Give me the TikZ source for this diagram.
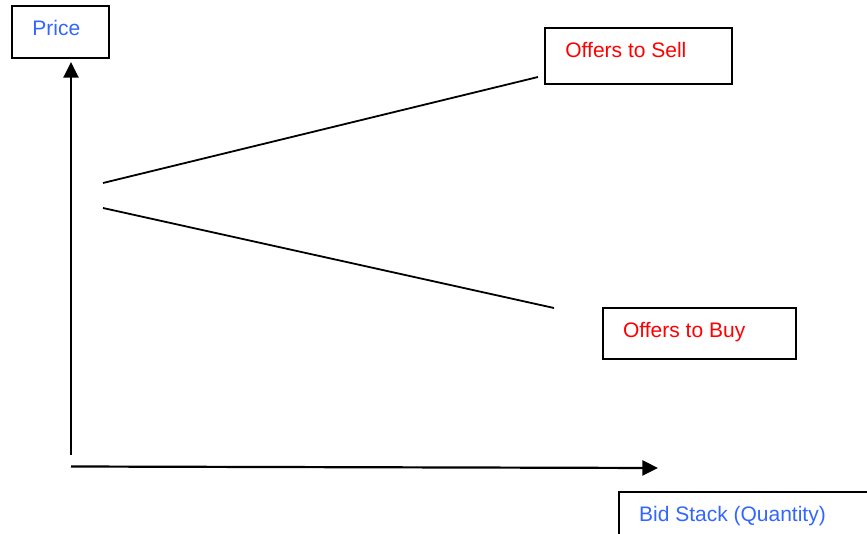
\documentclass[tikz,border=0pt]{standalone}
\usepackage{fontspec}
\setmainfont{Liberation Sans}
\usetikzlibrary{arrows.meta}
\definecolor{axisblue}{RGB}{51,102,255}
\begin{document}
\begin{tikzpicture}[x=0.5pt,y=-0.5pt]
\tikzstyle{labelbox} = [draw, line width=1pt, anchor=north west, inner sep=0pt]
\tikzstyle{axistext} = [anchor=base west, inner sep=0pt, text=axisblue, font=\fontsize{10.5}{12}\selectfont]
\tikzstyle{offertext} = [anchor=base west, inner sep=0pt, text=red, font=\fontsize{10.5}{12}\selectfont]
\tikzstyle{axis} = [line width=1.1pt, -{Triangle[length=7.8pt,width=7.5pt]}]
\tikzstyle{offerline} = [line width=0.9pt]
 \useasboundingbox (0,0) rectangle (867,534);
 % boxes and their texts
 \node[labelbox, minimum width=48.3pt, minimum height=25.8pt] (pricebox) at (11,5.5) {};
 \node[axistext] (price) at (32,36) {Price};
 \node[labelbox, minimum width=93.5pt, minimum height=28pt] (sellbox) at (544,27) {};
 \node[offertext] (sell) at (565,58) {Offers to Sell};
 \node[labelbox, minimum width=96.6pt, minimum height=25.5pt] (buybox) at (601.7,307) {};
 \node[offertext] (buy) at (622.7,337) {Offers to Buy};
 \node[labelbox, minimum width=124.5pt, minimum height=26pt] (bidbox) at (617.7,491) {};
 \node[axistext] (bid) at (638.7,521) {Bid Stack (Quantity)};
 % axes
 \coordinate (ybottom) at (71,455);
 \coordinate (ytop) at (71,62);
 \coordinate (xleft) at (71,466.5);
 \coordinate (xright) at (658,468);
 \draw[axis] (ybottom) -- (ytop);
 \draw[axis] (xleft) -- (xright);
 % offer lines
 \coordinate (sellstart) at (103,183);
 \coordinate (sellend) at (538,77);
 \coordinate (buystart) at (103,208);
 \coordinate (buyend) at (554,308);
 \draw[offerline] (sellstart) -- (sellend);
 \draw[offerline] (buystart) -- (buyend);
\end{tikzpicture}
\end{document}
